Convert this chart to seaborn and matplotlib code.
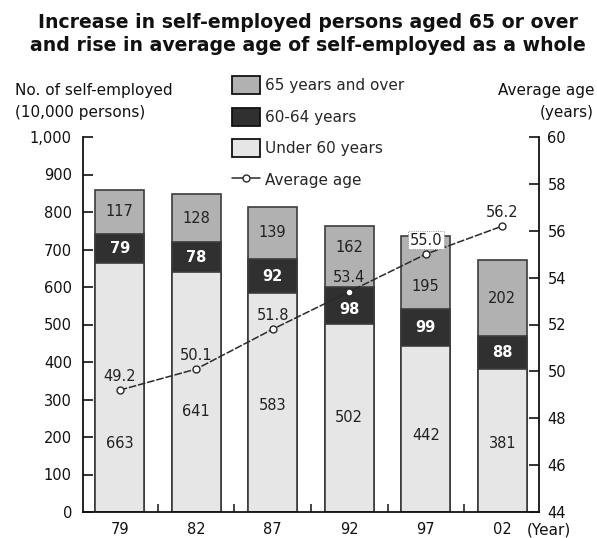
import numpy as np
import pandas as pd
import matplotlib
matplotlib.use("Agg")
import matplotlib.pyplot as plt
from matplotlib.patches import Patch
from matplotlib.lines import Line2D
from matplotlib.ticker import FuncFormatter, FixedLocator
import seaborn as sns

# ---- data ----
years = ["79", "82", "87", "92", "97", "02"]
under_60 = [663, 641, 583, 502, 442, 381]
age_60_64 = [79, 78, 92, 98, 99, 88]
age_65_over = [117, 128, 139, 162, 195, 202]
average_age = [49.2, 50.1, 51.8, 53.4, 55.0, 56.2]

# ---- label placement tweaks (data units) ----
top_label_shift = [0, 0, 0, 25, -38, 0]
mid_label_shift = [0, 0, 0, -12, 0, 0]
under_label_y = [184, 267, 285, 251, 205, 184]

sns.set_style("white")
plt.rcParams["font.family"] = ["DejaVu Sans"]

c_over = "#b1b1b1"
c_mid = "#303030"
c_under = "#e6e6e6"
c_edge = "#3c3c3c"
c_line = "#2a2a2a"
line_dash = (5, 1.2)
fs = 10.5

df = pd.DataFrame({"year": years, "under": under_60, "mid": age_60_64, "over": age_65_over})
df["cum_mid"] = df["under"] + df["mid"]
df["total"] = df["cum_mid"] + df["over"]

fig = plt.figure(figsize=(5.97, 5.38), dpi=100)
ax = fig.add_axes([83 / 597, 26 / 538, (539 - 83) / 597, (512 - 137) / 538])

bw = 0.64
for col, colr in [("total", c_over), ("cum_mid", c_mid), ("under", c_under)]:
    sns.barplot(data=df, x="year", y=col, color=colr, saturation=1, width=bw,
                edgecolor=c_edge, linewidth=1.2, ax=ax)

ax.set_xlim(-0.48, 5.48)
ax.set_ylim(0, 1000)
ax.set_xlabel("")
ax.set_ylabel("")
ax.set_yticks(np.arange(0, 1001, 100))
ax.yaxis.set_major_formatter(FuncFormatter(lambda v, p: f"{int(v):,}"))
ax.tick_params(axis="y", direction="in", length=7, width=1.2, pad=8, labelsize=fs, colors="#111")
ax.tick_params(axis="x", length=0, pad=7, labelsize=fs, colors="#111")
ax.xaxis.set_minor_locator(FixedLocator([0.5, 1.5, 2.5, 3.5, 4.5]))
ax.tick_params(axis="x", which="minor", direction="in", length=6, width=1.2, bottom=True)
for s in ["top", "right"]:
    ax.spines[s].set_visible(False)
for s in ["left", "bottom"]:
    ax.spines[s].set_linewidth(1.3)
    ax.spines[s].set_color("#111")

# segment value labels
for i in range(len(years)):
    u, m, o = under_60[i], age_60_64[i], age_65_over[i]
    ax.text(i, u + m + o / 2 + top_label_shift[i], str(o), ha="center", va="center",
            fontsize=fs, color="#222")
    ax.text(i, u + m / 2 + mid_label_shift[i], str(m), ha="center", va="center",
            fontsize=fs, color="white", fontweight="bold")
    ax.text(i, under_label_y[i], str(u), ha="center", va="center", fontsize=fs, color="#222")

# average age line on the secondary axis
ax2 = ax.twinx()
sns.lineplot(x=np.arange(len(years)), y=average_age, ax=ax2, color=c_line, lw=1.1,
             dashes=False, marker="o", markersize=5, markerfacecolor="white",
             markeredgecolor=c_line, markeredgewidth=1.0)
for ln in ax2.get_lines():
    ln.set_dashes(line_dash)
ax2.set_xlim(-0.48, 5.48)
ax2.set_ylim(44, 60)
ax2.set_yticks(np.arange(44, 61, 2))
ax2.set_ylabel("")
ax2.tick_params(axis="y", direction="in", length=7, width=1.2, pad=6, labelsize=fs, colors="#111")
for s in ["top", "left", "bottom"]:
    ax2.spines[s].set_visible(False)
ax2.spines["right"].set_linewidth(1.3)
ax2.spines["right"].set_color("#111")

for i, v in enumerate(average_age):
    box = None
    if i == 4:
        box = dict(boxstyle="square,pad=0.1", fc="white", ec="#777", lw=0.6, ls=":")
    ax2.annotate(f"{v:.1f}", (i, v), xytext=(0, 10), textcoords="offset points",
                 ha="center", va="center", fontsize=fs, color="#222", bbox=box)

# title and axis captions
fig.text(0.515, 1 - 22 / 538, "Increase in self-employed persons aged 65 or over",
         ha="center", va="center", fontsize=13.6, fontweight="bold", color="#111")
fig.text(0.515, 1 - 46 / 538, "and rise in average age of self-employed as a whole",
         ha="center", va="center", fontsize=13.6, fontweight="bold", color="#111")
fig.text(15 / 597, 1 - 90 / 538, "No. of self-employed", ha="left", va="center",
         fontsize=11, color="#111")
fig.text(15 / 597, 1 - 112 / 538, "(10,000 persons)", ha="left", va="center",
         fontsize=11, color="#111")
fig.text(595 / 597, 1 - 91 / 538, "Average age", ha="right", va="center",
         fontsize=11, color="#111")
fig.text(594 / 597, 1 - 112 / 538, "(years)", ha="right", va="center",
         fontsize=11, color="#111")
fig.text(549 / 597, 1 - 530 / 538, "(Year)", ha="center", va="center",
         fontsize=11, color="#111")

# legend
handles = [
    Patch(facecolor=c_over, edgecolor="#111", linewidth=1.3),
    Patch(facecolor=c_mid, edgecolor="#111", linewidth=1.3),
    Patch(facecolor=c_under, edgecolor="#111", linewidth=1.3),
    Line2D([0], [0], color=c_line, lw=1.1, marker="o", markersize=5,
           markerfacecolor="white", markeredgecolor=c_line),
]
labels = ["65 years and over", "60-64 years", "Under 60 years", "Average age"]
fig.legend(handles, labels, loc="upper left", bbox_to_anchor=(232 / 597, 1 - 76 / 538),
           frameon=False, fontsize=11, handlelength=1.8, handleheight=1.45,
           handletextpad=0.35, labelspacing=0.88, borderpad=0, borderaxespad=0)

fig.savefig("out.png", dpi=100)
